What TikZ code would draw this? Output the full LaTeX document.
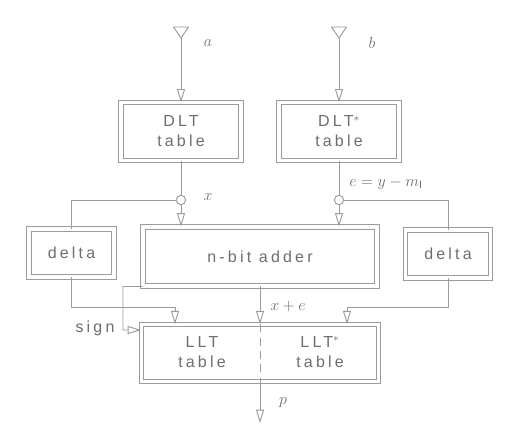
\documentclass[tikz,border=0pt]{standalone}
\usepackage{fontspec}
\setmainfont{Liberation Sans}
\newfontfamily\lblfont[LetterSpace=20]{Liberation Sans}
\usetikzlibrary{arrows.meta}
\definecolor{ln}{RGB}{155,155,155}
\definecolor{tx}{RGB}{110,110,110}
\begin{document}
\begin{tikzpicture}[x=0.75pt,y=-0.75pt,
  every node/.style={font=\lblfont\fontsize{12}{15}\selectfont, text=tx},
  wire/.style={draw=ln, line width=0.7pt},
  arr/.style={wire, -{Triangle[open,length=10pt,width=6pt]}},
  dbox/.style={draw=ln, double=white, double distance=2.4pt, line width=0.7pt, align=center, inner sep=0pt},
  junc/.style={circle, draw=ln, fill=white, line width=0.7pt, minimum size=7pt, inner sep=0pt}]
\fill[white] (0,0) rectangle (521,448);
\useasboundingbox (0,0) rectangle (521,448);

% boxes
\node[dbox, minimum width=90pt, minimum height=43pt] (dlt) at (181,131.5) {DLT\\table};
\node[dbox, minimum width=90pt, minimum height=43pt] (dlts) at (339,131.5) {DLT$^*$\\table};
\node[dbox, minimum width=175.5pt, minimum height=44.25pt] (add) at (260,256.5) {n-bit adder};
\node[dbox, minimum width=63.75pt, minimum height=36pt] (dl) at (71.5,253) {delta};
\node[dbox, minimum width=63.75pt, minimum height=36pt] (dr) at (448,254) {delta};
\node[dbox, minimum width=177.75pt, minimum height=42.5pt] (llt) at (260,353) {};
\node[align=center] (lltl) at (202,352) {LLT\\table};
\node[align=center] (lltr) at (320,352) {LLT$^*$\\table};

% junctions
\node[junc] (j1) at (181,200) {};
\node[junc] (j2) at (339,200) {};

% inputs
\coordinate (ta) at (181,38);
\coordinate (tb) at (339,38);
\draw[wire] (ta) -- ++(-7.5,-11) -- ++(15,0) -- cycle;
\draw[wire] (tb) -- ++(-7.5,-11) -- ++(15,0) -- cycle;
\draw[arr] (ta) -- (dlt.north);
\draw[arr] (tb) -- (dlts.north);

% table outputs
\draw[wire] (dlt.south) -- (j1);
\draw[wire] (dlts.south) -- (j2);
\draw[arr] (j1) -- (j1 |- add.north);
\draw[arr] (j2) -- (j2 |- add.north);
\draw[wire] (j1) -| (dl.north);
\draw[wire] (j2) -| (dr.north);

% delta outputs
\coordinate (cl) at (175,307);
\coordinate (cr) at (347,307);
\draw[arr] (dl.south) |- (cl) -- (cl |- llt.north);
\draw[arr] (dr.south) |- (cr) -- (cr |- llt.north);

% sign
\coordinate (s1) at (123,286.5);
\coordinate (s2) at (123,330);
\draw[arr] (add.south west) -- (s1) -- (s2) -- (s2 -| llt.west);

% sum
\draw[arr] (add.south) -- (llt.north);
\draw[wire, dash pattern=on 6pt off 4pt] (llt.north) -- (llt.south);
\coordinate (pe) at (260,423);
\draw[arr] (llt.south) -- (pe);

% labels
\node (la) at (208,43) {$a$};
\node (lb) at (372,43) {$b$};
\node (lx) at (208,197) {$x$};
\node (le) at (386,183) {$e=y-m_{\mathrm{I}}$};
\node (lsum) at (288,307) {$x+e$};
\node (lsign) at (95,328) {sign};
\node (lp) at (283,403) {$p$};
\end{tikzpicture}
\end{document}
